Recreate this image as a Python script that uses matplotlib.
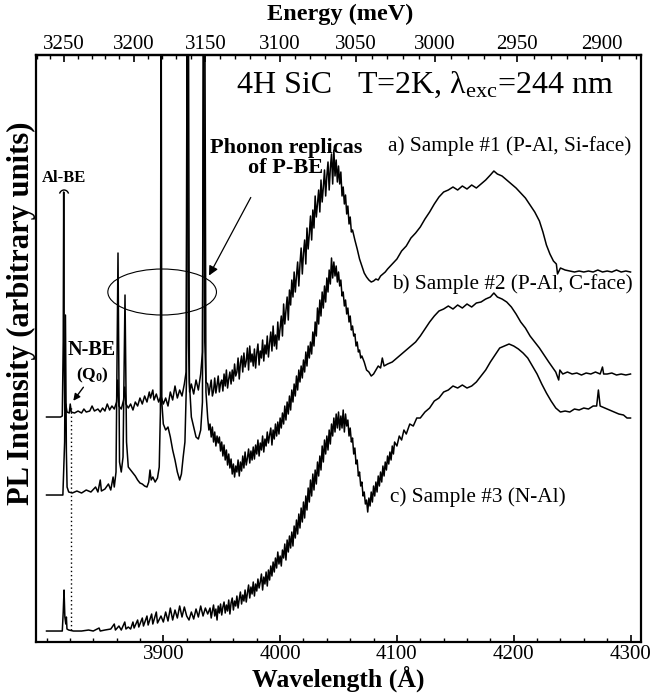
import numpy as np
import matplotlib
matplotlib.use('Agg')
import matplotlib.pyplot as plt
from matplotlib.patches import Ellipse, Arc
from matplotlib.ticker import MultipleLocator, FixedLocator

plt.rcParams['font.family'] = ['Liberation Serif', 'DejaVu Serif']
plt.rcParams['mathtext.fontset'] = 'custom'
plt.rcParams['mathtext.rm'] = 'Liberation Serif'
plt.rcParams['mathtext.it'] = 'Liberation Serif:italic'
plt.rcParams['mathtext.bf'] = 'Liberation Serif:bold'

# ---- spectra (wavelength in A, intensity in arbitrary units) ----
# a) Sample #1 (P-Al, Si-face)
wl_a = ([3800, 3812, 3813.5, 3814.3, 3814.7, 3815.1, 3815.6, 3816.5, 3817.5, 3819.5, 3820.3, 3821.2,
         3824, 3827, 3830, 3832, 3834, 3837, 3839, 3841, 3844, 3846, 3848, 3850, 3852, 3854, 3856,
         3858, 3860, 3861, 3862, 3864, 3866, 3867, 3868, 3870, 3872, 3874, 3876, 3878, 3880, 3882,
         3884, 3886, 3888, 3889, 3891, 3892, 3894, 3896, 3898, 3900, 3902, 3904, 3906, 3908, 3910,
         3912, 3914, 3916, 3918, 3919.5, 3920.5, 3921.5, 3922.5, 3924, 3926, 3928, 3930, 3932,
         3933.5, 3934.5, 3935.5, 3936.5]
        + list(range(3938, 4063))
        + [4064, 4066, 4068, 4070, 4072, 4074, 4076, 4078, 4080, 4082, 4084, 4086,
           4088, 4090, 4092, 4096, 4100, 4104, 4108, 4112, 4116, 4120, 4124, 4128, 4132, 4136, 4140,
           4144, 4148, 4152, 4156, 4160, 4164, 4168, 4172, 4176, 4180, 4183, 4186, 4190, 4194, 4198,
           4202, 4206, 4210, 4214, 4218, 4222, 4225, 4228, 4231, 4234, 4236.5, 4237.5, 4240, 4244,
           4248, 4252, 4256, 4260, 4264, 4268, 4272, 4276, 4280, 4284, 4288, 4292, 4296, 4300])
int_a = [225, 225, 226, 300, 450, 300, 232, 238, 230, 229, 238, 230,
         229, 231, 229, 233, 230, 231, 236, 231, 233, 230, 234, 231, 238, 232, 236,
         233, 240, 262, 236, 233, 242, 255, 238, 234, 238, 232, 240, 236, 244, 238,
         246, 240, 250, 244, 252, 242, 248, 240, 246, 238, 244, 236, 250, 242, 256,
         244, 252, 246, 258, 270, 700, 300, 250, 258, 248, 262, 252, 268,
         290, 700, 300, 260,
         258, 247, 255, 262, 246, 251, 264, 249, 257, 266,
         250, 259, 262, 251, 268, 256, 272, 254, 263, 270,
         258, 272, 261, 278, 266, 270, 284, 263, 279, 286,
         270, 289, 275, 281, 294, 272, 296, 280, 288, 276,
         293, 274, 289, 298, 277, 291, 284, 302, 281, 297,
         288, 306, 285, 299, 310, 291, 316, 296, 307, 293,
         320, 302, 314, 326, 306, 338, 318, 331, 345, 322,
         352, 337, 362, 345, 370, 350, 366, 380, 356, 378,
         394, 368, 389, 402, 378, 414, 393, 408, 426, 402,
         432, 414, 446, 425, 438, 452, 430, 462, 440, 455,
         472, 446, 466, 480, 452, 474, 488, 458, 492, 466,
         482, 460, 476, 458, 470, 446, 455, 438, 447, 428,
         436, 418, 425, 410, 412,
         402, 393, 383, 376, 369, 365, 362, 360, 361, 363, 362, 366,
         368, 370, 373, 378, 383, 391, 396, 404, 409, 415, 423, 430, 438, 445, 450,
         452, 455, 452, 456, 453, 457, 454, 458, 462, 467, 471, 468, 466, 462, 458,
         454, 449, 444, 437, 430, 421, 410, 397, 388, 381, 378, 368, 374, 372,
         371, 370, 371, 370, 371, 370, 372, 370, 371, 370, 372, 370, 371, 370]

# b) Sample #2 (P-Al, C-face)
wl_b = ([3800, 3814, 3815.5, 3816.2, 3817, 3817.6, 3819, 3822, 3826, 3830, 3834, 3838, 3842, 3844,
         3846, 3847, 3850, 3853, 3855, 3857, 3858, 3859.5, 3861.2, 3862.5, 3864, 3865.5, 3867.2,
         3868.5, 3870, 3872, 3874, 3876, 3878, 3880, 3882, 3884, 3886, 3887.5, 3888.6, 3889.6, 3891,
         3893, 3895, 3896.5, 3897.5, 3898.1, 3898.7, 3900, 3902, 3904, 3906, 3908, 3910, 3912, 3914,
         3915.5, 3917, 3918.5, 3919.8, 3920.6, 3921.4, 3922.3, 3924, 3926, 3928, 3930, 3932, 3933.5,
         3934.5, 3935.4, 3936.5]
        + list(range(3938, 4071))
        + [4072, 4074, 4076, 4078, 4080, 4082, 4084, 4086, 4087.5,
           4089, 4092, 4096, 4100, 4104, 4108, 4112, 4116, 4120, 4124, 4128, 4132, 4136, 4140, 4144,
           4148, 4152, 4156, 4160, 4164, 4168, 4172, 4176, 4180, 4183, 4186, 4190, 4194, 4198, 4202,
           4206, 4210, 4214, 4218, 4222, 4226, 4230, 4233, 4236, 4238.5, 4239.5, 4242, 4246, 4250,
           4254, 4258, 4262, 4266, 4270, 4274, 4276, 4277, 4280, 4284, 4288, 4292, 4296, 4300])
int_b = [147, 147, 200, 327, 190, 155, 150, 149, 151, 149, 152, 150, 155, 150,
         162, 151, 153, 158, 152, 165, 155, 170, 389, 180, 170, 185, 347,
         200, 175, 172, 169, 166, 162, 159, 158, 156, 155, 160, 172, 162, 165,
         160, 164, 175, 230, 700, 240, 218, 212, 215, 205, 192, 182, 170, 162,
         168, 185, 200, 260, 700, 700, 260, 225, 215, 205, 203, 212, 240,
         700, 700, 250,
         224, 212, 218, 205, 215, 200, 210, 196, 206, 199,
         205, 191, 200, 186, 197, 182, 192, 177, 188, 174,
         183, 168, 178, 165, 176, 170, 182, 166, 180, 171,
         186, 174, 190, 177, 184, 193, 179, 191, 182, 195,
         183, 197, 188, 202, 186, 199, 192, 206, 190, 203,
         196, 210, 199, 207, 214, 197, 212, 203, 218, 206,
         220, 208, 224, 214, 229, 218, 236, 222, 240, 228,
         246, 232, 252, 240, 258, 246, 266, 252, 272, 260,
         276, 264, 282, 270, 290, 276, 296, 284, 300, 288,
         310, 296, 320, 306, 334, 318, 342, 326, 350, 334,
         356, 340, 364, 350, 372, 358, 384, 364, 380, 366,
         376, 360, 370, 356, 362, 346, 350, 336, 342, 328,
         334, 320, 326, 312, 316, 306, 308, 296, 300, 290,
         292, 284, 286,
         280, 272, 270, 266, 268, 272, 276, 274, 284,
         276, 278, 280, 284, 288, 292, 296, 300, 306, 313, 320, 326, 331, 333, 336,
         333, 337, 334, 338, 335, 339, 340, 343, 345, 349, 345, 343, 340, 335, 328,
         320, 314, 306, 300, 294, 287, 280, 275, 270, 262, 272, 268, 270, 268,
         269, 267, 269, 268, 270, 268, 275, 268, 268, 269, 267, 268, 267, 268]

# c) Sample #3 (N-Al)
wl_c = ([3800, 3813.5, 3814.3, 3815, 3815.7, 3816.5, 3817, 3817.5, 3819, 3823, 3830, 3836, 3840,
         3845, 3846, 3850, 3855, 3858, 3859, 3862, 3864, 3867, 3868, 3870, 3872, 3874, 3875, 3878,
         3879, 3882, 3883, 3886, 3887, 3890, 3891, 3894, 3895, 3898, 3900, 3902, 3904, 3906, 3908,
         3910, 3912, 3914, 3916, 3918, 3920, 3922, 3924, 3926, 3928, 3930, 3932, 3934, 3936, 3938]
        + list(range(3940, 4099))
        + [4100, 4102, 4104, 4106, 4108, 4111, 4114, 4117, 4120, 4124, 4128, 4132, 4136, 4140, 4144,
           4148, 4152, 4156, 4160, 4164, 4168, 4172, 4176, 4180, 4184, 4188, 4192, 4196, 4200, 4204,
           4208, 4212, 4216, 4220, 4224, 4228, 4232, 4236, 4240, 4244, 4248, 4252, 4256, 4260, 4264,
           4268, 4271, 4272.5, 4274, 4278, 4282, 4286, 4290, 4294, 4297, 4300])
int_c = [11, 11, 30, 52, 25, 18, 25, 13, 12, 11, 11, 12, 11,
         14, 11, 12, 13, 18, 12, 16, 12, 20, 13, 15, 13, 20, 14, 22,
         15, 24, 16, 26, 17, 28, 18, 30, 19, 26, 20, 30, 21, 34, 22,
         32, 24, 36, 25, 35, 26, 22, 30, 23, 33, 25, 36, 26, 34, 28,
         34, 24, 31, 37, 26, 33, 22, 36, 29, 38,
         27, 35, 40, 29, 37, 31, 42, 28, 39, 44,
         32, 41, 36, 46, 34, 43, 50, 38, 47, 41,
         52, 40, 49, 57, 44, 55, 48, 60, 46, 58,
         51, 63, 54, 60, 68, 52, 65, 58, 70, 56,
         72, 62, 76, 66, 80, 70, 84, 74, 90, 78,
         86, 76, 92, 84, 98, 82, 102, 90, 106, 94,
         110, 96, 116, 104, 122, 108, 128, 114, 134, 120,
         140, 124, 146, 132, 154, 140, 162, 146, 168, 152,
         172, 158, 180, 166, 186, 172, 196, 180, 202, 188,
         206, 192, 212, 198, 218, 206, 224, 210, 228, 214,
         230, 212, 226, 214, 232, 210, 228, 216, 222, 206,
         214, 200, 204, 188, 194, 178, 182, 166, 170, 156,
         160, 146, 150, 138, 142, 130, 144, 136, 150, 140,
         156, 146, 160, 150, 166, 156, 170, 160, 176, 166,
         180, 172, 186, 178, 190, 182, 196, 188, 200,
         196, 206, 202, 212, 208, 218, 216, 224, 224, 230, 234, 241, 244, 250, 252,
         256, 254, 257, 254, 256, 260, 266, 272, 280, 287, 294, 296, 298, 296, 293,
         289, 284, 276, 268, 258, 249, 241, 234, 230, 231, 230, 233, 232, 234, 233,
         236, 236, 252, 236, 234, 232, 230, 228, 227, 224, 224]

wavelength_ticks = [3900, 4000, 4100, 4200, 4300]
energy_ticks = [2900, 2950, 3000, 3050, 3100, 3150, 3200, 3250]


def lam2e(x):
    x = np.asarray(x, dtype=float)
    with np.errstate(divide='ignore'):
        return 12398420.0 / x


fig = plt.figure(figsize=(6.5, 6.98), dpi=100)
ax = fig.add_axes([0.0554, 0.0802, 0.9308, 0.841])

for wl, it in [(wl_a, int_a), (wl_b, int_b), (wl_c, int_c)]:
    ax.plot(wl, it, color='black', lw=1.1)

ax.set_xlim(3791, 4309)
ax.set_ylim(0, 587)
ax.set_yticks([])
ax.xaxis.set_major_locator(FixedLocator(wavelength_ticks))
ax.xaxis.set_minor_locator(MultipleLocator(20))
ax.tick_params(axis='x', which='major', direction='in', length=5, width=1.2, labelsize=15, top=False, pad=2)
ax.tick_params(axis='x', which='minor', direction='in', length=3, width=1.0, top=False)
for s in ax.spines.values():
    s.set_linewidth(1.6)
ax.set_xlabel('Wavelength (Å)', fontsize=18.5, fontweight='bold', labelpad=1)
fig.text(21 / 650, 1 - 313 / 698, 'PL Intensity (arbitrary units)', fontsize=22, fontweight='bold',
         rotation=90, ha='center', va='center')

sec = ax.secondary_xaxis('top', functions=(lam2e, lam2e))
sec.set_xticks(energy_ticks)
sec.xaxis.set_minor_locator(MultipleLocator(10))
sec.tick_params(axis='x', which='major', direction='in', length=5, width=1.2, labelsize=15, pad=1)
sec.tick_params(axis='x', which='minor', direction='in', length=3, width=1.0)
sec.spines['top'].set_linewidth(1.6)
fig.text(340 / 650, 1 - 14 / 698, 'Energy (meV)', fontsize=17.5, fontweight='bold',
         ha='center', va='center')

# annotations
ax.text(3963, 557, '4H SiC', fontsize=23, va='center', ha='left')
ax.text(4066, 557, r'T=2K, λ$_{\mathrm{exc}}$=244 nm', fontsize=23, va='center', ha='left')
ax.text(4092, 496, 'a) Sample #1 (P-Al, Si-face)', fontsize=15.3, va='center', ha='left')
ax.text(4096, 358, 'b) Sample #2 (P-Al, C-face)', fontsize=15.3, va='center', ha='left')
ax.text(4094, 145, 'c) Sample #3 (N-Al)', fontsize=15.3, va='center', ha='left')
ax.text(4005, 494, 'Phonon replicas', fontsize=16, fontweight='bold', va='center', ha='center')
ax.text(4005, 474, 'of P-BE', fontsize=16, fontweight='bold', va='center', ha='center')
ax.annotate('', xy=(3938, 364), xytext=(3976, 447),
            arrowprops=dict(arrowstyle='-|>', color='black', lw=0.9, mutation_scale=14))
ax.add_patch(Ellipse((3899, 350), 93, 46, fill=False, lw=0.8, color='black'))

ax.text(3815, 464, 'Al-BE', fontsize=12, fontweight='bold', va='center', ha='center')
ax.add_patch(Arc((3815, 447), 8, 10, theta1=20, theta2=160, lw=1.0, color='black'))
ax.text(3839, 292, 'N-BE', fontsize=14.5, fontweight='bold', va='center', ha='center')
ax.text(3839, 267, r'(Q$_{\mathbf{0}}$)', fontsize=12.5, fontweight='bold', va='center', ha='center')
ax.annotate('', xy=(3821.5, 239), xytext=(3833, 257),
            arrowprops=dict(arrowstyle='-|>', color='black', lw=1.0, mutation_scale=10))
ax.plot([3821, 3821], [12, 236], color='black', lw=1.0, ls=(0, (1, 2)))

fig.savefig('out.png', dpi=100)
